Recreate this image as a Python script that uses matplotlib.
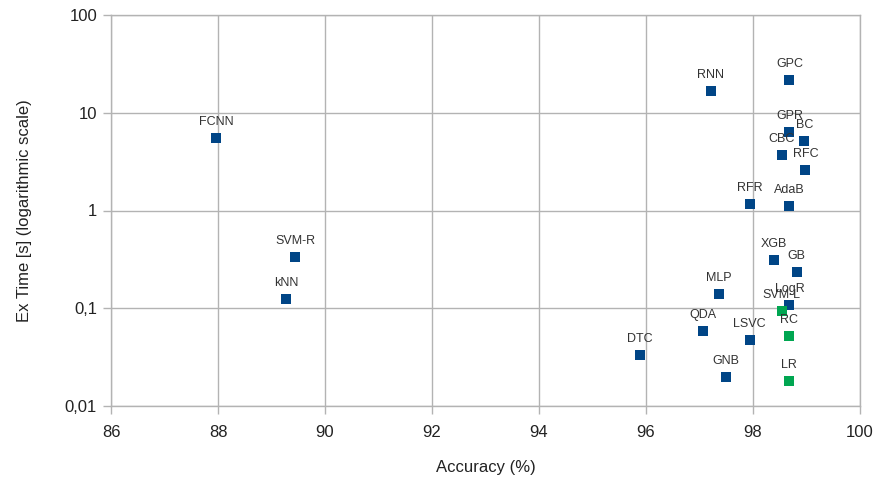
import matplotlib
matplotlib.use("Agg")
import matplotlib.pyplot as plt
from matplotlib.ticker import FixedLocator, FixedFormatter, NullLocator

plt.rcParams['font.family'] = ['Liberation Sans', 'DejaVu Sans']

names = ["FCNN", "SVM-R", "kNN", "DTC", "QDA", "GNB", "MLP", "LSVC", "RNN", "RFR",
         "XGB", "CBC", "GPC", "GPR", "AdaB", "LogR", "GB", "BC", "RFC",
         "SVM-L", "RC", "LR"]
accuracy = [87.97, 89.44, 89.28, 95.89, 97.07, 97.50, 97.36, 97.94, 97.21, 97.94,
            98.40, 98.54, 98.68, 98.68, 98.68, 98.68, 98.82, 98.96, 98.98,
            98.54, 98.68, 98.68]
ex_time = [5.52, 0.334, 0.123, 0.0335, 0.058, 0.020, 0.140, 0.047, 16.7, 1.16,
           0.312, 3.67, 21.6, 6.35, 1.11, 0.107, 0.233, 5.1, 2.6,
           0.094, 0.052, 0.018]
group = ["blue"] * 19 + ["green"] * 3

colors = {"blue": "#004586", "green": "#00a651"}

xticks = [86, 88, 90, 92, 94, 96, 98, 100]
yticks = [0.01, 0.1, 1, 10, 100]
ytick_labels = ["0,01", "0,1", "1", "10", "100"]

fig = plt.figure(figsize=(8.8, 4.8), dpi=100)
ax = fig.add_axes([111/880, 1 - 406/480, (860 - 111)/880, (406 - 15)/480])

ax.set_yscale("log")
ax.set_xlim(86, 100)
ax.set_ylim(0.01, 100)

for g in ["blue", "green"]:
    xs = [a for a, gg in zip(accuracy, group) if gg == g]
    ys = [t for t, gg in zip(ex_time, group) if gg == g]
    ax.scatter(xs, ys, marker="s", s=52, color=colors[g], linewidths=0, zorder=3)

for n, a, t in zip(names, accuracy, ex_time):
    ax.annotate(n, (a, t), xytext=(0, 11.5), textcoords="offset points",
                ha="center", va="center", fontsize=9, color="#333333", zorder=4)

ax.xaxis.set_major_locator(FixedLocator(xticks))
ax.yaxis.set_major_locator(FixedLocator(yticks))
ax.yaxis.set_major_formatter(FixedFormatter(ytick_labels))
ax.yaxis.set_minor_locator(NullLocator())

ax.grid(True, which="major", color="#b3b3b3", linewidth=1)
ax.set_axisbelow(True)
for sp in ax.spines.values():
    sp.set_color("#b3b3b3")
    sp.set_linewidth(1)

ax.tick_params(axis="both", which="major", colors="#b3b3b3", length=6, width=1,
               labelcolor="#222222", labelsize=12)
ax.tick_params(axis="x", pad=8)
ax.tick_params(axis="y", pad=4)

ax.set_xlabel("Accuracy (%)", fontsize=12, color="#222222", labelpad=14)
ax.set_ylabel("Ex Time [s] (logarithmic scale)", fontsize=12, color="#222222", labelpad=24)

fig.savefig("out.png", dpi=100)
